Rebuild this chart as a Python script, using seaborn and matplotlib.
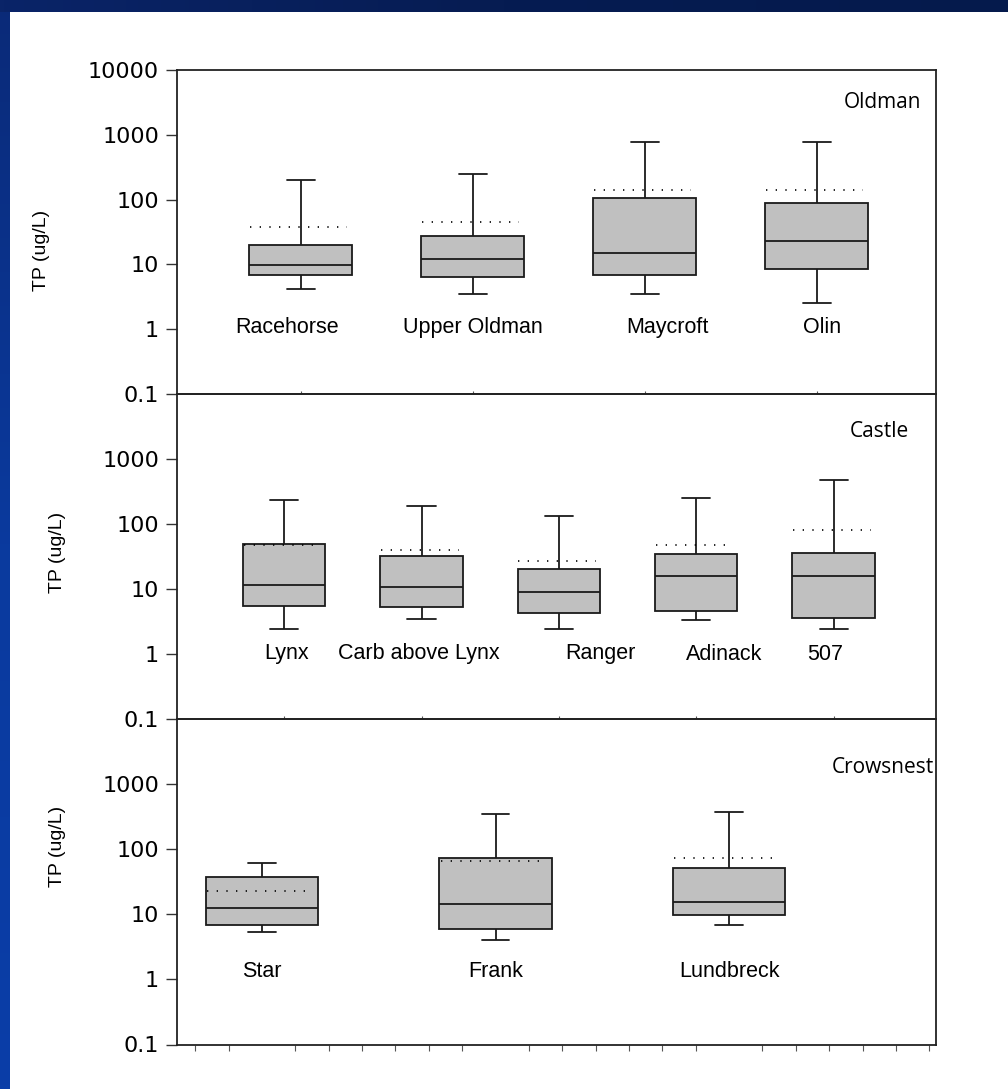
import numpy as np
import pandas as pd
import matplotlib
matplotlib.use("Agg")
import matplotlib.pyplot as plt
import seaborn as sns
from matplotlib import font_manager
from matplotlib.ticker import FixedLocator, FixedFormatter, NullLocator

# ---- Total phosphorus summaries per site (whisker low, Q1, median, Q3, whisker high, mean)
oldman_sites = ["Racehorse", "Upper Oldman", "Maycroft", "Olin"]
oldman_low = [4.1, 3.45, 3.45, 2.55]
oldman_q1 = [6.9, 6.3, 6.9, 8.4]
oldman_median = [9.7, 12.3, 14.8, 23.0]
oldman_q3 = [20.0, 27.4, 107.0, 90.0]
oldman_high = [200.0, 245.0, 766.0, 783.0]
oldman_mean = [37.8, 45.0, 141.0, 141.0]

castle_sites = ["Lynx", "Carb above Lynx", "Ranger", "Adinack", "507"]
castle_low = [2.45, 3.45, 2.45, 3.33, 2.45]
castle_q1 = [5.4, 5.2, 4.2, 4.6, 3.6]
castle_median = [11.4, 10.7, 9.0, 16.0, 16.0]
castle_q3 = [50.0, 32.0, 20.3, 35.0, 35.3]
castle_high = [231.0, 187.0, 134.0, 254.0, 470.0]
castle_mean = [47.0, 39.4, 26.7, 47.0, 81.0]

crowsnest_sites = ["Star", "Frank", "Lundbreck"]
crowsnest_low = [5.4, 4.0, 6.9]
crowsnest_q1 = [6.9, 5.9, 9.8]
crowsnest_median = [12.6, 14.3, 15.4]
crowsnest_q3 = [38.0, 72.4, 52.0]
crowsnest_high = [62.0, 342.0, 371.0]
crowsnest_mean = [23.0, 66.7, 72.4]

ytick_values = [0.1, 1, 10, 100, 1000, 10000]
ytick_labels = ["0.1", "1", "10", "100", "1000", "10000"]

sns.set_style("white")
plt.rcParams["font.family"] = ["Liberation Sans", "DejaVu Sans"]

W, H = 1008, 1089
fig = plt.figure(figsize=(W / 100, H / 100), dpi=100)
fig.patch.set_facecolor("white")

# slide frame: dark blue band on the left and across the top
band = fig.add_axes([0, 0, 10 / W, 1])
grad = np.linspace(0, 1, 256).reshape(-1, 1)
band.imshow(grad, aspect="auto", cmap=matplotlib.colors.LinearSegmentedColormap.from_list(
    "slide", ["#0a2a78", "#0b3a9e", "#0a3ea8"]), extent=[0, 1, 0, 1])
band.set_axis_off()
top = fig.add_axes([0, 1 - 12 / H, 1, 12 / H])
top.imshow(np.linspace(0, 1, 256).reshape(1, -1), aspect="auto",
           cmap=matplotlib.colors.LinearSegmentedColormap.from_list(
               "slidetop", ["#0a2468", "#061c52", "#051a4c"]), extent=[0, 1, 0, 1])
top.set_axis_off()

LEFT, RIGHT = 177, 936


def px_axes(y_top, y_bot):
    return fig.add_axes([LEFT / W, 1 - y_bot / H, (RIGHT - LEFT) / W, (y_bot - y_top) / H])


panels = [
    dict(name="Oldman", sites=oldman_sites, low=oldman_low, q1=oldman_q1, med=oldman_median,
         q3=oldman_q3, high=oldman_high, mean=oldman_mean, box=(70, 394),
         xlim=(-0.72, 3.695), width=0.6, cap=0.163, ticks=6, label_y=1.07,
         shifts=[-0.08, 0.0, 0.13, 0.03], title_xy=(0.93, 0.9), ylab=(42, 250)),
    dict(name="Castle", sites=castle_sites, low=castle_low, q1=castle_q1, med=castle_median,
         q3=castle_q3, high=castle_high, mean=castle_mean, box=(394, 719),
         xlim=(-0.78, 4.745), width=0.6, cap=0.206, ticks=5, label_y=1.0,
         shifts=[0.02, -0.02, 0.3, 0.2, -0.06], title_xy=(0.925, 0.885), ylab=(58, 552)),
    dict(name="Crowsnest", sites=crowsnest_sites, low=crowsnest_low, q1=crowsnest_q1,
         med=crowsnest_median, q3=crowsnest_q3, high=crowsnest_high, mean=crowsnest_mean,
         box=(719, 1044.5), xlim=(-0.364, 2.886), width=0.48, cap=0.117, ticks=5,
         label_y=1.3, shifts=[0.0, 0.0, 0.0], title_xy=(0.93, 0.85), ylab=(58, 846)),
]

for i, p in enumerate(panels):
    ax = px_axes(*p["box"])
    ax.set_facecolor("none")
    bw = p["width"]
    rows = []
    for s, a, b, c, d, e in zip(p["sites"], p["low"], p["q1"], p["med"], p["q3"], p["high"]):
        for v in (a, b, c, d, e):
            rows.append({"site": s, "tp": v})
    df = pd.DataFrame(rows)
    sns.boxplot(data=df, x="site", y="tp", order=p["sites"], ax=ax, whis=(0, 100),
                width=bw, color="#c0c0c0", saturation=1, linecolor="#1a1a1a",
                linewidth=1.3, log_scale=True, showfliers=False)

    # narrow the whisker caps
    for ln in ax.lines:
        x = np.asarray(ln.get_xdata(), dtype=float)
        y = np.asarray(ln.get_ydata(), dtype=float)
        if len(x) == 2 and y[0] == y[1] and abs(x[1] - x[0]) < 0.9 * bw:
            cx = x.mean()
            ln.set_xdata([cx - p["cap"] / 2, cx + p["cap"] / 2])

    # dotted mean lines
    pos = np.arange(len(p["sites"]))
    ax.hlines(p["mean"], pos - bw / 2 + 0.005, pos + bw / 2 - 0.03,
              colors="black", linestyles=(0, (0.8, 5.0)), linewidth=1.2, zorder=5)

    ax.set_yscale("log")
    ax.set_ylim(0.1, 10000)
    ax.set_xlim(*p["xlim"])
    vals = ytick_values[:p["ticks"]]
    ax.yaxis.set_major_locator(FixedLocator(vals))
    ax.yaxis.set_major_formatter(FixedFormatter(ytick_labels[:p["ticks"]]))
    ax.yaxis.set_minor_locator(NullLocator())
    ax.tick_params(axis="y", which="major", left=True, direction="out", length=8,
                   width=1.0, color="#333333", pad=5, labelsize=16, labelcolor="black")
    for t in ax.get_yticklabels():
        t.set_fontfamily("DejaVu Sans")
    ax.set_xlabel("")
    ax.set_ylabel("")
    ax.set_xticklabels([])
    if i < 2:
        ax.tick_params(axis="x", which="major", bottom=True, direction="in", length=2,
                       width=0.8, color="#555555")
    else:
        ax.tick_params(axis="x", which="major", bottom=False)
        step = 1 / 7
        minor = [m for m in np.arange(-2 * step, 2.886, step) if abs(m - round(m)) > 1e-6]
        ax.xaxis.set_minor_locator(FixedLocator(minor))
        ax.tick_params(axis="x", which="minor", bottom=True, direction="out", length=4,
                       width=0.8, color="#555555")
    for sp in ax.spines.values():
        sp.set_visible(True)
        sp.set_color("#222222")
        sp.set_linewidth(1.3)

    for k, s in enumerate(p["sites"]):
        ax.text(k + p["shifts"][k], p["label_y"], s, ha="center", va="center",
                fontsize=15.5, family="Liberation Sans", color="black")
    ax.text(*p["title_xy"], p["name"], transform=ax.transAxes, ha="center", va="center",
            fontsize=15, family="Open Sans", color="black")

    fig.text(p["ylab"][0] / W, 1 - p["ylab"][1] / H, "TP (ug/L)", rotation=90, ha="center",
             va="center", fontsize=14, family="Liberation Sans", color="black")

fig.savefig("out.png", dpi=100, facecolor=fig.get_facecolor())
